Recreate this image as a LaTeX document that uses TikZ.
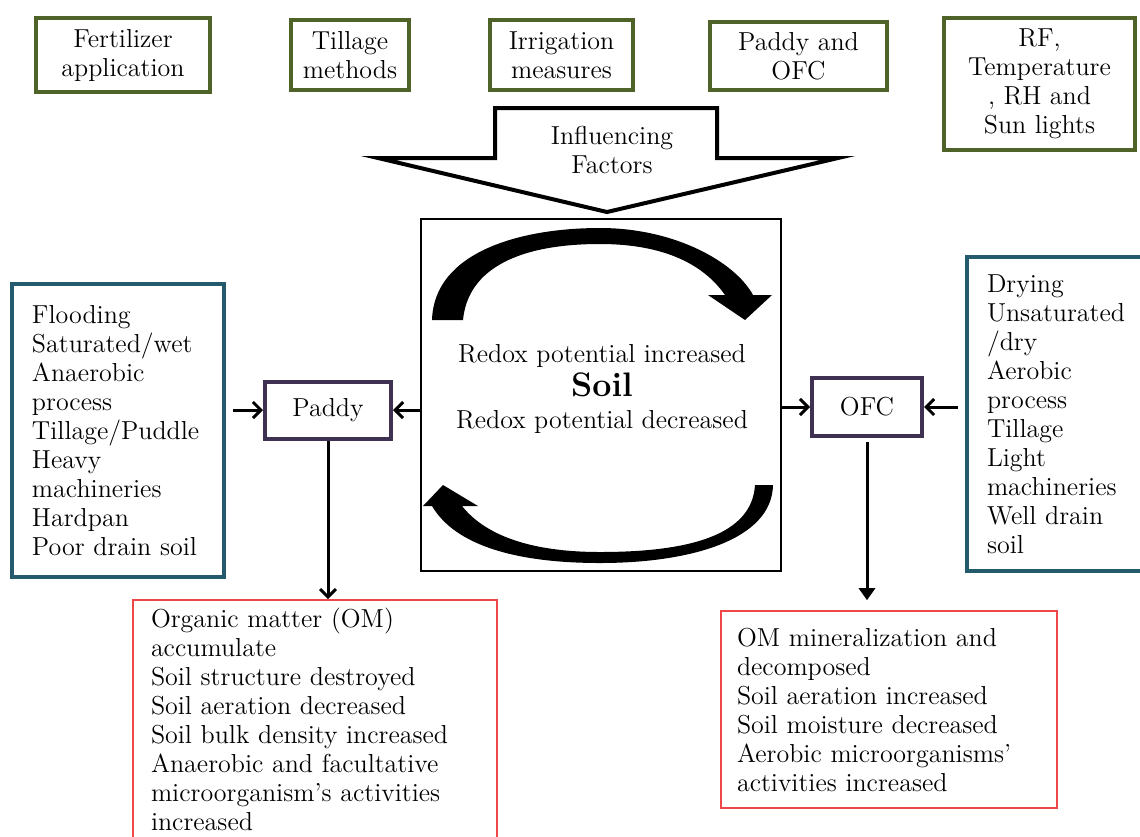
\documentclass[tikz,border=0pt]{standalone}
\usepackage{tikz}
\usetikzlibrary{arrows.meta}

\definecolor{factgreen}{RGB}{79,98,40}
\definecolor{condteal}{RGB}{36,91,108}
\definecolor{croppurple}{RGB}{63,49,81}
\definecolor{effred}{RGB}{240,70,70}

\tikzset{
  factor/.style={draw=factgreen, line width=2pt, align=center, inner sep=0pt},
  cond/.style={draw=condteal, line width=2pt, align=left, inner xsep=10pt},
  crop/.style={draw=croppurple, line width=2pt, inner sep=0pt},
  effect/.style={draw=effred, line width=0.8pt, align=left},
  link/.style={line width=1.5pt, -{Straight Barb[length=4pt,width=8pt]}},
}

\begin{document}
\begin{tikzpicture}[x=0.5pt, y=-0.5pt, font=\fontsize{13}{14.5}\selectfont]
  \useasboundingbox (0,0) rectangle (1140,836);
  % influencing factors
  \node[factor, minimum width=87pt, minimum height=37pt] (fert) at (123,55) {Fertilizer\\application};
  \node[factor, minimum width=59pt, minimum height=35pt] (till) at (350,55) {Tillage\\methods};
  \node[factor, minimum width=71.5pt, minimum height=35pt] (irri) at (561.5,55) {Irrigation\\measures};
  \node[factor, minimum width=88.5pt, minimum height=34pt] (pofc) at (798.5,56) {Paddy and\\OFC};
  \node[factor, minimum width=95.5pt, minimum height=66pt] (clim) at (1039.5,84) {RF,\\Temperature\\, RH and\\Sun lights};
  \draw[line width=2pt, fill=white] (495,108) -- (717,108) -- (717,158) -- (838,158)
    -- (607,212) -- (378,158) -- (495,158) -- cycle;
  \node[align=center] (infl) at (612,150) {Influencing\\Factors};
  % soil box with the redox cycle
  \node[draw, line width=0.7pt, minimum width=180pt, minimum height=176pt] (soil) at (601,395) {};
  \node[align=center] (redox) at (602,389) {Redox potential increased\\[2.5pt]{\fontsize{17}{18}\bfseries Soil}\\[1.5pt]Redox potential decreased};
  \fill (432,320) .. controls (434,252) and (520,228) .. (600,228)
    .. controls (675,228) and (735,262) .. (753,295) -- (772,295) -- (745,320) -- (708,295) -- (725,295)
    .. controls (702,262) and (660,244) .. (600,244)
    .. controls (520,244) and (468,268) .. (463,320) -- cycle;
  \fill (773,485) .. controls (772,540) and (690,563) .. (600,563)
    .. controls (515,563) and (455,545) .. (432,506) -- (423,506) -- (443,485) -- (478,506) -- (462,506)
    .. controls (485,535) and (530,552) .. (600,552)
    .. controls (690,552) and (752,535) .. (755,485) -- cycle;
  % paddy side
  \node[crop, minimum width=63pt, minimum height=28.5pt] (paddy) at (328,410) {Paddy};
  \node[cond, text width=86pt, minimum height=146.5pt] (wetc) at (118,430.5) {Flooding\\Saturated/wet\\Anaerobic\\process\\Tillage/Puddle\\Heavy\\machineries\\Hardpan\\Poor drain soil};
  \node[effect, text width=164pt, inner xsep=9pt, minimum height=127pt] (wetfx) at (315,727) {};
  \node[align=left, text width=164pt] (wetfxtxt) at (315,719) {Organic matter (OM)\\accumulate\\Soil structure destroyed\\Soil aeration decreased\\Soil bulk density increased\\Anaerobic and facultative\\microorganism's activities\\increased};
  % OFC side
  \node[crop, minimum width=55pt, minimum height=29pt] (ofc) at (867,407) {OFC};
  \node[cond, text width=72pt, minimum height=157pt] (dryc) at (1059,414) {Drying\\Unsaturated\\/dry\\Aerobic\\process\\Tillage\\Light\\machineries\\Well drain\\soil};
  \node[effect, text width=152pt, inner xsep=8pt, minimum height=98.5pt] (dryfx) at (889,709.5) {OM mineralization and\\decomposed\\Soil aeration increased\\Soil moisture decreased\\Aerobic microorganisms'\\activities increased};
  % arrows
  \draw[link, shorten <=3.5pt] (wetc.east |- paddy.west) -- (paddy.west);
  \draw[link] (soil.west |- paddy.east) -- (paddy.east);
  \draw[link] (soil.east |- ofc.west) -- (ofc.west);
  \draw[link, shorten <=3.5pt] (dryc.west |- ofc.east) -- (ofc.east);
  \draw[link] (paddy.south) -- (paddy.south |- wetfx.north);
  \draw[line width=1.5pt, -{Triangle[length=6pt,width=8pt]}, shorten <=2pt, shorten >=5pt] (ofc.south) -- (ofc.south |- dryfx.north);
\end{tikzpicture}
\end{document}
